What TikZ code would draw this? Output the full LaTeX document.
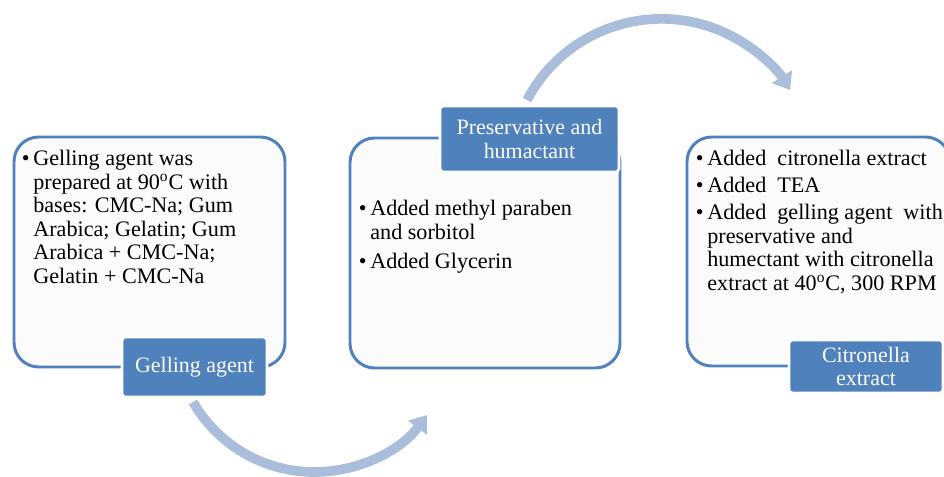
\documentclass[tikz,border=0pt]{standalone}
\usepackage{fontspec}
\setmainfont{Liberation Serif}
\usetikzlibrary{arrows.meta,fit,positioning}
\definecolor{tagblue}{RGB}{79,129,189}
\definecolor{flowblue}{RGB}{170,190,220}
\tikzset{
  bigbox/.style={draw=tagblue, line width=1.7pt, rounded corners=14pt, fill=gray!3, inner sep=0pt},
  tagbox/.style={draw=white, line width=1.5pt, fill=tagblue, rounded corners=2pt, text=white, align=center, inner sep=0pt, font=\fontsize{12.5}{13.6}\selectfont},
  itemtxt/.style={anchor=north west, align=left, inner sep=0pt, font=\fontsize{12.6}{13.4}\selectfont},
  flow/.style={draw=flowblue, line width=5.5pt, -{Triangle[width=13pt,length=9pt]}}
}
\newcommand{\bul}{\llap{\textbullet\,}}

\begin{document}
\begin{tikzpicture}[x=0.02cm,y=-0.02cm]
\clip (0,0) rectangle (944,477);
% the three steps
\node[bigbox, fit={(14,137) (285,367)}] (gelbox) {};
\node[bigbox, fit={(350,138) (620,368)}] (presbox) {};
\node[bigbox, fit={(687,137) (950,366)}] (citbox) {};
\node[itemtxt] (geltxt) at (33,150) {\bul Gelling agent was\\ prepared at 90\textsuperscript{o}C with\\ bases: CMC-Na; Gum\\ Arabica; Gelatin; Gum\\ Arabica + CMC-Na;\\ Gelatin + CMC-Na};
\node[itemtxt] (prestxt) at (370,200) {\bul Added methyl paraben\\ and sorbitol\\[3pt] \bul Added Glycerin};
\node[itemtxt] (cittxt) at (707,150) {\bul Added\ \ citronella extract\\[2pt] \bul Added\ \ TEA\\[2pt] \bul Added\ \ gelling agent\ \ with\\ preservative and\\ humectant with citronella\\ extract at 40\textsuperscript{o}C, 300 RPM};
\node[tagbox, minimum width=2.9cm, minimum height=1.2cm] (geltag) at (194.5,367) {Gelling agent};
\node[tagbox, minimum width=3.58cm, minimum height=1.32cm] (prestag) at (529.5,139) {Preservative and\\ humactant};
\node[tagbox, minimum width=3.08cm, minimum height=1.06cm] (cittag) at (866,366.5) {Citronella\\ extract};
% curved arrows
\coordinate (g2p) at (193,402);
\coordinate (p2c) at (527,100);
\draw[flow] (g2p) arc[start angle=150, end angle=36.4, radius=140];
\draw[flow] (p2c) arc[start angle=207.8, end angle=327.9, radius=152];
\end{tikzpicture}
\end{document}
